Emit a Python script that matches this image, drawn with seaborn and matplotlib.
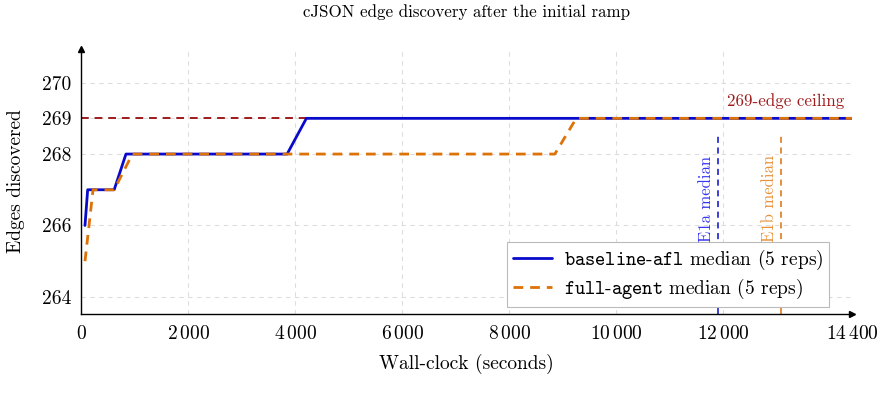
import pandas as pd
import seaborn as sns
import matplotlib.pyplot as plt

# median edge-coverage curves (breakpoints)
base_t = [75, 125, 620, 840, 3850, 4210, 14400]
base_edges = [266, 267, 267, 268, 268, 269, 269]
agent_t = [75, 225, 620, 960, 8850, 9250, 14400]
agent_edges = [265, 267, 267, 268, 268, 269, 269]

ceiling = 269
e1a_median = 11900
e1b_median = 13080

xticks = [0, 2000, 4000, 6000, 8000, 10000, 12000, 14400]
yticks = [264, 266, 268, 269, 270]

blue = '#0a0acc'
orange = '#dc7208'
darkred = '#9e1b1b'

sns.set_theme(style='white')
plt.rcParams['font.family'] = ['cmr10', 'DejaVu Serif']
plt.rcParams['mathtext.fontset'] = 'cm'
plt.rcParams['axes.formatter.use_mathtext'] = True
for k in ['text.color', 'axes.labelcolor', 'xtick.color', 'ytick.color']:
    plt.rcParams[k] = 'black'

df = pd.concat([
    pd.DataFrame({'t': base_t, 'edges': base_edges, 'run': 'baseline'}),
    pd.DataFrame({'t': agent_t, 'edges': agent_edges, 'run': 'agent'}),
])

fig, ax = plt.subplots(figsize=(8.85, 4.13), dpi=100)
fig.subplots_adjust(left=0.0915, right=0.9627, bottom=0.2397, top=0.882)

ax.set_xlim(0, 14400)
ax.set_ylim(263.52, 270.95)
ax.grid(True, color='#dddddd', linestyle=(0, (4, 4)), linewidth=0.8)
ax.set_axisbelow(True)

ax.axhline(ceiling, color=darkred, linestyle=(0, (4, 3)), linewidth=1.4, zorder=2)
ax.text(14250, ceiling + 0.27, '269-edge ceiling', color=darkred, fontsize=12.2,
        ha='right', va='bottom')

sns.lineplot(data=df[df.run == 'baseline'], x='t', y='edges', color=blue, lw=2.0,
             ax=ax, label=r'$\mathtt{baseline}$-$\mathtt{afl}$ median (5 reps)', zorder=3)
sns.lineplot(data=df[df.run == 'agent'], x='t', y='edges', color=orange, lw=2.0,
             linestyle=(0, (3.5, 2.5)), ax=ax,
             label=r'$\mathtt{full}$-$\mathtt{agent}$ median (5 reps)', zorder=4)

ax.vlines(e1a_median, 263.52, 268.52, color=blue, linestyle=(0, (4, 3)), lw=1.1, zorder=2)
ax.vlines(e1b_median, 263.52, 268.52, color=orange, linestyle=(0, (4, 3)), lw=1.1, zorder=2)
ax.text(e1a_median - 80, 265.55, 'E1a median', color='#3535f0', fontsize=12,
        rotation=90, ha='right', va='bottom', zorder=6)
ax.text(e1b_median - 80, 265.55, 'E1b median', color='#e8913a', fontsize=12,
        rotation=90, ha='right', va='bottom', zorder=6)

ax.set_xticks(xticks)
ax.set_xticklabels([r'$%s$' % f'{v:,}'.replace(',', r'\,') for v in xticks], fontsize=14)
ax.set_yticks(yticks)
ax.set_yticklabels([str(v) for v in yticks], fontsize=14)
ax.tick_params(axis='x', direction='inout', length=6, width=0.8, color='black', pad=5)
ax.tick_params(axis='y', direction='out', length=4, width=0.8, color='black', pad=3)

ax.set_xlabel('Wall-clock (seconds)', fontsize=14, labelpad=8)
ax.set_ylabel('Edges discovered', fontsize=14, labelpad=12)
ax.set_title('cJSON edge discovery after the initial ramp', fontsize=12.2, pad=23)

for s in ['top', 'right']:
    ax.spines[s].set_visible(False)
for s in ['left', 'bottom']:
    ax.spines[s].set_color('black')
    ax.spines[s].set_linewidth(1.0)
ax.plot(1, 0, '>', color='black', ms=4, transform=ax.transAxes, clip_on=False)
ax.plot(0, 1, '^', color='black', ms=4, transform=ax.transAxes, clip_on=False)

leg = ax.legend(loc='lower right', bbox_to_anchor=(0.97, 0.026), fontsize=14,
                frameon=True, fancybox=False, edgecolor='#bbbbbb', framealpha=1,
                handlelength=2.0, handletextpad=0.6, borderpad=0.3, labelspacing=0.25,
                borderaxespad=0)
leg.get_frame().set_linewidth(0.8)
leg.set_zorder(5)

plt.savefig('out.png', dpi=100)
